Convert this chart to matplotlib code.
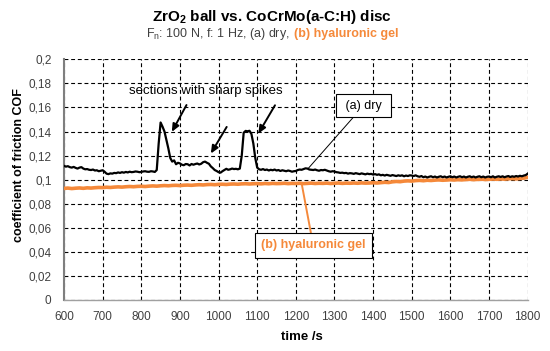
import matplotlib
matplotlib.use("Agg")
import matplotlib.pyplot as plt

plt.rcParams['font.family'] = ['Liberation Sans', 'DejaVu Sans']
plt.rcParams['mathtext.fontset'] = 'custom'
plt.rcParams['mathtext.rm'] = 'Liberation Sans'
plt.rcParams['mathtext.it'] = 'Liberation Sans:italic'
plt.rcParams['mathtext.bf'] = 'Liberation Sans:bold'

# ---- data ----
dry_time = list(range(600, 1801, 5))
dry_cof = [
    0.1115, 0.1108, 0.1112, 0.1104, 0.1100, 0.1106, 0.1098, 0.1092, 0.1100, 0.1104,
    0.1092, 0.1086, 0.1088, 0.1082, 0.1080, 0.1084, 0.1076, 0.1078, 0.1070, 0.1074,  # 600-695
    0.1078, 0.1066, 0.1050, 0.1046, 0.1052, 0.1050, 0.1056, 0.1054, 0.1060, 0.1056,
    0.1062, 0.1058, 0.1064, 0.1060, 0.1066, 0.1062, 0.1064, 0.1068, 0.1066, 0.1062,  # 700-795
    0.1064, 0.1068, 0.1070, 0.1066, 0.1065, 0.1070, 0.1068, 0.1064, 0.1080, 0.1300,
    0.1475, 0.1440, 0.1400, 0.1330, 0.1260, 0.1180, 0.1150, 0.1160, 0.1128, 0.1140,  # 800-895
    0.1135, 0.1124, 0.1120, 0.1130, 0.1128, 0.1118, 0.1130, 0.1124, 0.1130, 0.1134,
    0.1126, 0.1132, 0.1145, 0.1150, 0.1140, 0.1132, 0.1110, 0.1096, 0.1080, 0.1072,  # 900-995
    0.1062, 0.1058, 0.1070, 0.1080, 0.1090, 0.1082, 0.1086, 0.1092, 0.1088, 0.1090,
    0.1086, 0.1092, 0.1200, 0.1390, 0.1405, 0.1402, 0.1406, 0.1380, 0.1300, 0.1180,  # 1000-1095
    0.1100, 0.1086, 0.1082, 0.1088, 0.1080, 0.1084, 0.1076, 0.1082, 0.1078, 0.1084,
    0.1076, 0.1080, 0.1072, 0.1078, 0.1074, 0.1070, 0.1076, 0.1072, 0.1066, 0.1070,  # 1100-1195
    0.1072, 0.1080, 0.1084, 0.1082, 0.1088, 0.1094, 0.1092, 0.1084, 0.1082, 0.1080,
    0.1084, 0.1078, 0.1074, 0.1080, 0.1078, 0.1082, 0.1076, 0.1070, 0.1066, 0.1070,  # 1200-1295
    0.1068, 0.1062, 0.1060, 0.1056, 0.1058, 0.1054, 0.1056, 0.1050, 0.1054, 0.1052,
    0.1048, 0.1054, 0.1050, 0.1046, 0.1052, 0.1048, 0.1044, 0.1050, 0.1046, 0.1048,  # 1300-1395
    0.1042, 0.1046, 0.1040, 0.1044, 0.1036, 0.1040, 0.1034, 0.1040, 0.1036, 0.1032,
    0.1038, 0.1034, 0.1030, 0.1036, 0.1032, 0.1036, 0.1028, 0.1034, 0.1030, 0.1036,  # 1400-1495
    0.1034, 0.1030, 0.1036, 0.1028, 0.1024, 0.1030, 0.1020, 0.1026, 0.1018, 0.1024,
    0.1028, 0.1020, 0.1026, 0.1018, 0.1024, 0.1028, 0.1020, 0.1026, 0.1018, 0.1024,  # 1500-1595
    0.1028, 0.1020, 0.1026, 0.1018, 0.1024, 0.1028, 0.1020, 0.1026, 0.1018, 0.1024,
    0.1028, 0.1020, 0.1026, 0.1018, 0.1024, 0.1028, 0.1020, 0.1026, 0.1018, 0.1024,  # 1600-1695
    0.1026, 0.1020, 0.1028, 0.1018, 0.1024, 0.1028, 0.1022, 0.1028, 0.1020, 0.1026,
    0.1030, 0.1022, 0.1028, 0.1024, 0.1030, 0.1026, 0.1032, 0.1028, 0.1034, 0.1038,  # 1700-1795
    0.1050,                                                                          # 1800
]

gel_time = list(range(600, 1801, 10))
gel_cof = [
    0.0927, 0.0930, 0.0926, 0.0929, 0.0931, 0.0928, 0.0932, 0.0930, 0.0933, 0.0935,  # 600
    0.0934, 0.0937, 0.0935, 0.0938, 0.0940, 0.0938, 0.0941, 0.0943, 0.0941, 0.0944,  # 700
    0.0945, 0.0943, 0.0946, 0.0948, 0.0946, 0.0949, 0.0951, 0.0949, 0.0952, 0.0953,  # 800
    0.0951, 0.0954, 0.0955, 0.0953, 0.0956, 0.0958, 0.0956, 0.0959, 0.0960, 0.0958,  # 900
    0.0961, 0.0962, 0.0960, 0.0963, 0.0964, 0.0962, 0.0965, 0.0966, 0.0964, 0.0966,  # 1000
    0.0967, 0.0965, 0.0968, 0.0966, 0.0969, 0.0967, 0.0968, 0.0970, 0.0967, 0.0969,  # 1100
    0.0968, 0.0970, 0.0967, 0.0969, 0.0971, 0.0968, 0.0970, 0.0969, 0.0971, 0.0968,  # 1200
    0.0970, 0.0972, 0.0969, 0.0971, 0.0970, 0.0972, 0.0970, 0.0973, 0.0971, 0.0972,  # 1300
    0.0974, 0.0972, 0.0975, 0.0978, 0.0976, 0.0982, 0.0985, 0.0983, 0.0988, 0.0990,  # 1400
    0.0988, 0.0992, 0.0994, 0.0991, 0.0995, 0.0993, 0.0996, 0.0998, 0.0995, 0.0997,  # 1500
    0.0999, 0.0997, 0.1000, 0.0998, 0.1001, 0.1003, 0.1000, 0.1002, 0.1004, 0.1001,  # 1600
    0.1003, 0.1005, 0.1003, 0.1006, 0.1004, 0.1007, 0.1009, 0.1006, 0.1010, 0.1012,  # 1700
    0.1020,                                                                          # 1800
]

x_ticks = list(range(600, 1801, 100))
y_ticks = [0, 0.02, 0.04, 0.06, 0.08, 0.1, 0.12, 0.14, 0.16, 0.18, 0.2]
y_tick_labels = ['0', '0,02', '0,04', '0,06', '0,08', '0,1', '0,12', '0,14', '0,16', '0,18', '0,2']

ORANGE = '#F5893A'
TICKCOL = '#404040'

fig = plt.figure(figsize=(5.5, 3.51), dpi=100)
ax = fig.add_axes([64/550, 1-300/351, (527.7-64)/550, (300-59.3)/351])

ax.plot(gel_time, gel_cof, color=ORANGE, lw=2.6, zorder=3)
ax.plot(dry_time, dry_cof, color='black', lw=1.6, zorder=4)

ax.set_xlim(600, 1800)
ax.set_ylim(0, 0.2)
ax.set_xticks(x_ticks)
ax.set_xticklabels([str(t) for t in x_ticks])
ax.set_yticks(y_ticks)
ax.set_yticklabels(y_tick_labels)
ax.tick_params(length=0, labelsize=8.5, labelcolor=TICKCOL)
ax.tick_params(axis='y', pad=9)
ax.tick_params(axis='x', pad=8)
ax.grid(True, color='black', lw=0.8, linestyle=(0, (3.5, 2.5)))
ax.set_axisbelow(True)
for s in ['top', 'right']:
    ax.spines[s].set_visible(False)
ax.spines['left'].set_color('#7f7f7f')
ax.spines['left'].set_linewidth(1.5)
ax.spines['bottom'].set_color('#a0a0a0')
ax.spines['bottom'].set_linewidth(1.0)

ax.set_xlabel('time /s', fontsize=9.5, fontweight='bold', color='black', va='center')
ax.xaxis.set_label_coords((302-64)/463.7, (300-337)/240.7)
ax.set_ylabel('coefficient of friction COF', fontsize=9, fontweight='bold', color='black',
              va='center')
ax.yaxis.set_label_coords((19-64)/463.7, (300-165)/240.7)

# annotations
ax.text(967, 0.1735, 'sections with sharp spikes', fontsize=9.5, ha='center', va='center', zorder=6)
arr = dict(arrowstyle='-|>,head_length=0.45,head_width=0.2', lw=1.4, color='black',
           shrinkA=0, shrinkB=0)
ax.annotate('', xy=(879, 0.1397), xytext=(917, 0.1620), arrowprops=arr, zorder=6)
ax.annotate('', xy=(980, 0.1217), xytext=(1021, 0.1438), arrowprops=arr, zorder=6)
ax.annotate('', xy=(1103, 0.1383), xytext=(1146, 0.1618), arrowprops=arr, zorder=6)

ax.annotate(' (a) dry ', xy=(1232, 0.1093), xytext=(1375, 0.1614), fontsize=9,
            ha='center', va='center', zorder=7,
            bbox=dict(boxstyle='square,pad=0.45', fc='white', ec='black', lw=0.8),
            arrowprops=dict(arrowstyle='-', lw=0.7, color='black', shrinkA=0, shrinkB=0))
ax.annotate('(b) hyaluronic gel', xy=(1215, 0.0968), xytext=(1245, 0.0454), fontsize=9,
            fontweight='bold', color=ORANGE, ha='center', va='center', zorder=7,
            bbox=dict(boxstyle='square,pad=0.5', fc='white', ec='black', lw=0.8),
            arrowprops=dict(arrowstyle='-', lw=1.4, color=ORANGE, shrinkA=0, shrinkB=0))

# titles
fig.text(272/550, 1-16.5/351, r'ZrO$_\mathbf{2}$ ball vs. CoCrMo(a-C:H) disc', fontsize=11,
         fontweight='bold', ha='center', va='center')
renderer = fig.canvas.get_renderer()
t1 = fig.text(0, 1-34/351, r'F$_\mathrm{n}$: 100 N, f: 1 Hz, (a) dry,', fontsize=9,
              color='#404040', ha='left', va='center')
t2 = fig.text(0, 1-34/351, '(b) hyaluronic gel', fontsize=9, color=ORANGE,
              fontweight='bold', ha='left', va='center')
w1 = t1.get_window_extent(renderer).width
w2 = t2.get_window_extent(renderer).width
gap = 4.5
W = fig.bbox.width
x0 = 272 - (w1 + gap + w2) / 2
t1.set_x(x0 / W)
t2.set_x((x0 + w1 + gap) / W)

fig.savefig('out.png', dpi=100)
